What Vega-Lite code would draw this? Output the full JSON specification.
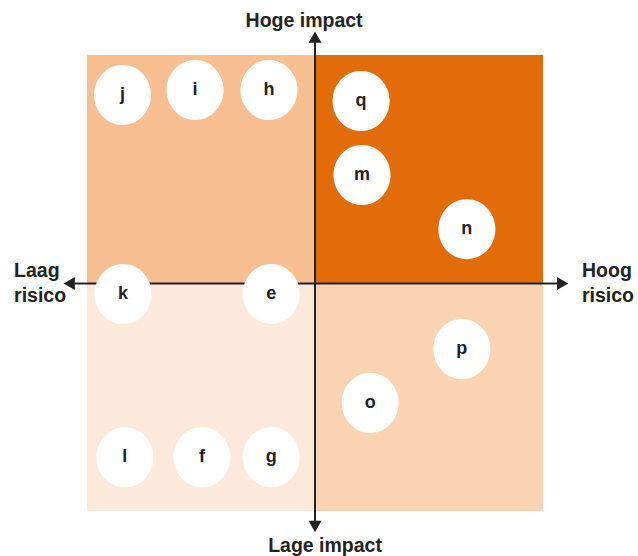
{
  "$schema": "https://vega.github.io/schema/vega-lite/v6.json",
  "width": 638,
  "height": 556,
  "autosize": {"type": "none"},
  "padding": 0,
  "background": "white",
  "config": {"view": {"stroke": null}},
  "datasets": {
    "quadrants": [
      {"q": "Laag risico, hoge impact", "x": -5, "x2": 0, "y": 0, "y2": 5},
      {"q": "Hoog risico, hoge impact", "x": 0, "x2": 5, "y": 0, "y2": 5},
      {"q": "Laag risico, lage impact", "x": -5, "x2": 0, "y": -5, "y2": 0},
      {"q": "Hoog risico, lage impact", "x": 0, "x2": 5, "y": -5, "y2": 0}
    ],
    "axes": [
      {"axis": "risico", "x": -5.3, "x2": 5.35, "y": -0.01, "y2": -0.01},
      {"axis": "impact", "x": 0, "x2": 0, "y": -5.3, "y2": 5.4}
    ],
    "arrowheads": [
      {"dir": "left", "x": -5.39, "y": -0.01},
      {"dir": "right", "x": 5.43, "y": -0.01},
      {"dir": "up", "x": 0, "y": 5.39},
      {"dir": "down", "x": 0, "y": -5.34}
    ],
    "items": [
      {"label": "j", "x": -4.22, "y": 4.12},
      {"label": "i", "x": -2.63, "y": 4.23},
      {"label": "h", "x": -1.01, "y": 4.23},
      {"label": "q", "x": 1.01, "y": 3.99},
      {"label": "m", "x": 1.03, "y": 2.37},
      {"label": "n", "x": 3.33, "y": 1.18},
      {"label": "k", "x": -4.21, "y": -0.24},
      {"label": "e", "x": -0.96, "y": -0.24},
      {"label": "p", "x": 3.22, "y": -1.45},
      {"label": "o", "x": 1.21, "y": -2.63},
      {"label": "l", "x": -4.17, "y": -3.82},
      {"label": "f", "x": -2.48, "y": -3.82},
      {"label": "g", "x": -0.96, "y": -3.82}
    ],
    "titlesCenter": [
      {"text": "Hoge impact", "x": -0.24, "y": 5.61},
      {"text": "Lage impact", "x": 0.22, "y": -5.9}
    ],
    "titlesLeft": [
      {"text": "Laag", "x": -6.6, "y": 0.13},
      {"text": "risico", "x": -6.6, "y": -0.42},
      {"text": "Hoog", "x": 5.855, "y": 0.13},
      {"text": "risico", "x": 5.855, "y": -0.42}
    ]
  },
  "encoding": {
    "x": {"field": "x", "type": "quantitative", "axis": null, "scale": {"domain": [-6.908, 7.083], "nice": false, "zero": false}},
    "y": {"field": "y", "type": "quantitative", "axis": null, "scale": {"domain": [-5.987, 6.206], "nice": false, "zero": false}}
  },
  "layer": [
    {
      "data": {"name": "quadrants"},
      "mark": {"type": "rect"},
      "encoding": {
        "x2": {"field": "x2"},
        "y2": {"field": "y2"},
        "color": {
          "field": "q",
          "type": "nominal",
          "legend": null,
          "scale": {
            "domain": ["Laag risico, hoge impact", "Hoog risico, hoge impact", "Laag risico, lage impact", "Hoog risico, lage impact"],
            "range": ["#F7BE91", "#E36C0A", "#FCE9DB", "#FAD3B3"]
          }
        }
      }
    },
    {
      "data": {"name": "axes"},
      "mark": {"type": "rule", "color": "#222222", "strokeWidth": 2},
      "encoding": {
        "x2": {"field": "x2"},
        "y2": {"field": "y2"}
      }
    },
    {
      "data": {"name": "arrowheads"},
      "mark": {"type": "point", "filled": true, "color": "#222222", "size": 169, "opacity": 1},
      "encoding": {
        "shape": {
          "field": "dir",
          "type": "nominal",
          "legend": null,
          "scale": {"domain": ["left", "right", "up", "down"], "range": ["triangle-left", "triangle-right", "triangle-up", "triangle-down"]}
        }
      }
    },
    {
      "data": {"name": "items"},
      "mark": {
        "type": "point",
        "filled": true,
        "color": "white",
        "opacity": 1,
        "size": 3600,
        "shape": "M-0.95,0A0.95,1 0 1,1 0.95,0A0.95,1 0 1,1 -0.95,0Z"
      }
    },
    {
      "data": {"name": "items"},
      "mark": {"type": "text", "font": "Liberation Sans", "fontWeight": "bold", "fontSize": 18, "color": "#222222", "baseline": "middle", "align": "center"},
      "encoding": {"text": {"field": "label"}}
    },
    {
      "data": {"name": "titlesCenter"},
      "mark": {"type": "text", "font": "Liberation Sans", "fontWeight": "bold", "fontSize": 19.5, "color": "#222222", "baseline": "alphabetic", "align": "center"},
      "encoding": {"text": {"field": "text"}}
    },
    {
      "data": {"name": "titlesLeft"},
      "mark": {"type": "text", "font": "Liberation Sans", "fontWeight": "bold", "fontSize": 19.5, "color": "#222222", "baseline": "alphabetic", "align": "left"},
      "encoding": {"text": {"field": "text"}}
    }
  ]
}
